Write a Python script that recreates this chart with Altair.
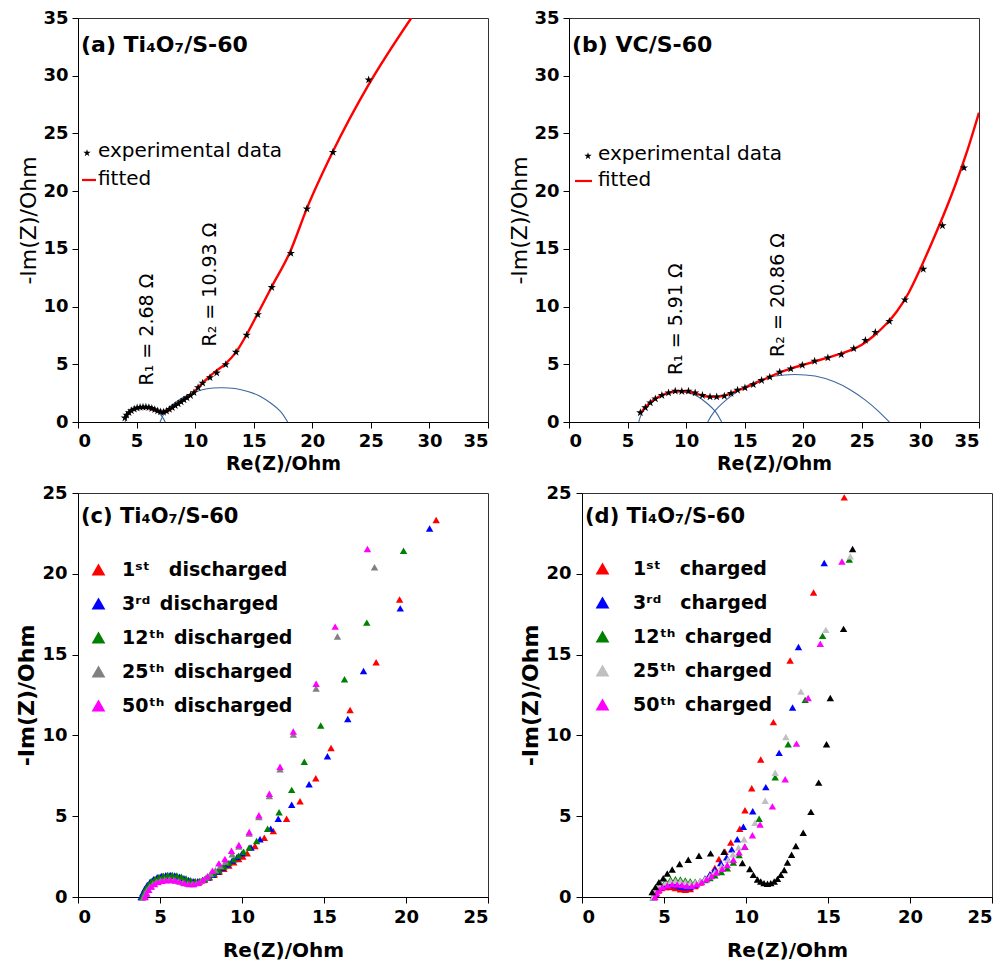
import altair as alt
import pandas as pd

FONT = "DejaVu Sans"
STAR = ("M0,-1L0.2245,-0.309L0.951,-0.309L0.363,0.118L0.588,0.809L0,0.382"
        "L-0.588,0.809L-0.363,0.118L-0.951,-0.309L-0.2245,-0.309Z")

TOP_TICKS = [0, 2.5, 5, 7.5, 10, 12.5, 15, 17.5, 20, 22.5, 25, 27.5, 30, 32.5, 35]
BOT_TICKS = [0, 5, 10, 15, 20, 25]

# ---------------- panel (a) ----------------
a_exp_x = [4.0, 4.15, 4.35, 4.55, 4.8, 5.05, 5.3, 5.55, 5.8, 6.05, 6.3, 6.55, 6.8, 7.05, 7.3,
           7.55, 7.8, 8.05, 8.3, 8.55, 8.8, 9.05, 9.3, 9.6, 9.9, 10.25, 10.64, 11.27, 11.84,
           12.61, 13.49, 14.40, 15.35, 16.54, 18.17, 19.54, 21.76, 24.81]
a_exp_y = [0.35, 0.6, 0.82, 0.98, 1.12, 1.22, 1.28, 1.3, 1.3, 1.26, 1.18, 1.08, 0.97, 0.88, 0.85,
           0.95, 1.1, 1.25, 1.42, 1.58, 1.75, 1.92, 2.1, 2.3, 2.55, 2.98, 3.38, 3.85, 4.25,
           4.98, 6.05, 7.52, 9.31, 11.66, 14.61, 18.46, 23.37, 29.65]
a_fit_x = [4.0, 4.3, 4.7, 5.2, 5.7, 6.2, 6.7, 7.2, 7.6, 8.2, 9.0, 9.7, 10.7, 11.69, 12.61, 13.49,
           14.40, 15.35, 16.54, 18.11, 19.54, 21.76, 24.81, 28.45]
a_fit_y = [0.3, 0.75, 1.05, 1.22, 1.25, 1.15, 0.95, 0.78, 0.9, 1.35, 1.95, 2.4, 3.45, 4.34, 5.06,
           6.05, 7.58, 9.40, 11.72, 14.75, 18.51, 23.43, 29.22, 35.0]
a_arc1_x = [4.02, 4.2, 4.5, 4.9, 5.4, 5.8, 6.3, 6.8, 7.2, 7.44]
a_arc1_y = [0.0, 0.55, 0.9, 1.15, 1.26, 1.27, 1.15, 0.85, 0.45, 0.0]
a_arc2_x = [7.0, 7.4, 8.0, 9.0, 10.0, 11.0, 12.2, 13.4, 14.5, 15.5, 16.5, 17.3, 17.9]
a_arc2_y = [0.0, 0.8, 1.45, 2.15, 2.6, 2.88, 2.97, 2.9, 2.65, 2.25, 1.6, 0.9, 0.0]

# ---------------- panel (b) ----------------
b_exp_x = [6.09, 6.52, 6.94, 7.37, 7.93, 8.50, 9.07, 9.63, 10.20, 10.77, 11.39, 12.04, 12.61,
           13.26, 13.83, 14.39, 15.02, 15.73, 16.44, 17.14, 17.99, 18.93, 19.92, 20.97, 22.10,
           23.24, 24.31, 25.30, 26.15, 27.35, 28.68, 30.24, 31.88, 33.72]
b_exp_y = [0.81, 1.24, 1.67, 2.01, 2.30, 2.53, 2.68, 2.65, 2.68, 2.53, 2.30, 2.19, 2.19,
           2.25, 2.48, 2.76, 2.96, 3.25, 3.60, 3.89, 4.32, 4.61, 4.92, 5.27, 5.56,
           5.84, 6.36, 7.08, 7.77, 8.72, 10.59, 13.24, 17.01, 22.02]
b_fit_x = [6.1, 6.6, 7.2, 8.0, 8.8, 9.6, 10.4, 11.2, 12.0, 12.8, 13.6, 14.4, 15.2, 16.0, 17.0,
           18.0, 19.0, 20.0, 21.0, 22.0, 23.0, 24.0, 25.0, 26.0, 27.0, 28.0, 29.0, 30.0, 31.0,
           32.0, 33.0, 34.0, 35.0]
b_fit_y = [0.75, 1.35, 1.9, 2.35, 2.6, 2.68, 2.58, 2.35, 2.18, 2.2, 2.4, 2.75, 3.05, 3.4, 3.85,
           4.3, 4.65, 4.95, 5.25, 5.55, 5.85, 6.2, 6.7, 7.45, 8.4, 9.6, 11.2, 13.3, 15.6,
           18.0, 20.6, 23.5, 26.8]
b_arc1_x = [5.95, 6.3, 6.9, 7.6, 8.4, 9.35, 10.3, 11.1, 11.8, 12.5, 13.03]
b_arc1_y = [0.0, 0.95, 1.65, 2.15, 2.5, 2.6, 2.5, 2.15, 1.6, 0.9, 0.0]
b_arc2_x = [11.84, 12.4, 13.4, 14.6, 16.0, 17.6, 19.27, 21.0, 22.6, 24.0, 25.3, 26.4, 27.35]
b_arc2_y = [0.0, 0.9, 1.9, 2.8, 3.5, 3.98, 4.12, 3.98, 3.5, 2.8, 1.9, 0.95, 0.0]

# ---------------- panel (c) ----------------
c_names = ["1ˢᵗ\u2003discharged", "3ʳᵈ\u2002discharged", "12ᵗʰ\u2002discharged",
           "25ᵗʰ\u2002discharged", "50ᵗʰ\u2002discharged"]
c_colors = ["#ff0000", "#0000ff", "#008000", "#808080", "#ff00ff"]
c1_x = [3.9, 4.0, 4.12, 4.28, 4.47, 4.68, 4.92, 5.18, 5.45, 5.72, 6.0, 6.28, 6.56, 6.84, 7.12,
        7.4, 7.7, 8.0, 8.3, 8.6, 8.9, 9.2, 9.5, 9.8, 10.05, 10.32, 10.79, 11.36, 11.91, 12.72,
        13.54, 14.50, 15.43, 16.59, 18.18, 19.61, 21.84]
c1_y = [0.0, 0.25, 0.5, 0.72, 0.92, 1.08, 1.2, 1.28, 1.32, 1.32, 1.28, 1.2, 1.1, 1.0, 0.94,
        0.96, 1.06, 1.2, 1.38, 1.56, 1.75, 1.95, 2.15, 2.35, 2.5, 2.71, 3.16, 3.67, 4.08, 4.84,
        5.92, 7.35, 9.22, 11.57, 14.53, 18.41, 23.33]
c3_x = [3.85, 3.95, 4.07, 4.22, 4.4, 4.6, 4.83, 5.08, 5.35, 5.62, 5.9, 6.18, 6.46, 6.74, 7.02,
        7.3, 7.6, 7.9, 8.2, 8.5, 8.8, 9.1, 9.4, 9.7, 10.0, 10.55, 11.10, 11.75, 12.21, 13.03,
        14.09, 15.21, 16.45, 17.41, 19.65, 21.44]
c3_y = [0.0, 0.25, 0.5, 0.74, 0.95, 1.1, 1.22, 1.3, 1.35, 1.36, 1.33, 1.26, 1.16, 1.05, 0.97,
        0.97, 1.06, 1.2, 1.38, 1.58, 1.8, 2.02, 2.25, 2.48, 2.7, 3.06, 3.57, 4.22, 4.84, 5.71,
        6.98, 8.71, 11.02, 13.98, 17.86, 22.80]
c12_x = [3.92, 4.02, 4.14, 4.3, 4.48, 4.7, 4.94, 5.2, 5.47, 5.75, 6.03, 6.31, 6.59, 6.87, 7.15,
         7.43, 7.72, 8.0, 8.3, 8.6, 8.9, 9.2, 9.5, 9.8, 10.1, 10.44, 10.89, 11.56, 12.26, 13.03,
         13.80, 14.80, 16.25, 17.61, 19.85]
c12_y = [0.0, 0.25, 0.52, 0.76, 0.97, 1.12, 1.24, 1.32, 1.37, 1.37, 1.33, 1.25, 1.14, 1.04, 0.98,
         1.0, 1.1, 1.25, 1.45, 1.66, 1.88, 2.1, 2.33, 2.56, 2.8, 3.06, 3.47, 4.22, 5.24, 6.63,
         8.37, 10.61, 13.47, 16.98, 21.43]
c25_x = [4.0, 4.1, 4.22, 4.38, 4.57, 4.79, 5.03, 5.29, 5.56, 5.84, 6.12, 6.4, 6.68, 6.96, 7.24,
         7.52, 7.8, 8.08, 8.38, 8.68, 9.0, 9.4, 9.81, 10.44, 11.03, 11.67, 12.32, 13.13, 14.52,
         15.82, 18.08]
c25_y = [0.0, 0.22, 0.45, 0.65, 0.82, 0.95, 1.03, 1.07, 1.08, 1.05, 0.98, 0.9, 0.83, 0.8, 0.86,
         1.0, 1.2, 1.42, 1.66, 1.92, 2.2, 2.65, 3.12, 3.92, 4.95, 6.25, 7.9, 10.05, 12.9,
         16.12, 20.41]
c50_x = [4.1, 4.2, 4.32, 4.48, 4.67, 4.89, 5.13, 5.39, 5.66, 5.94, 6.22, 6.5, 6.78, 7.06, 7.34,
         7.62, 7.9, 8.2, 8.59, 8.96, 9.36, 9.81, 10.44, 11.03, 11.67, 12.32, 13.13, 14.52, 15.68,
         17.65]
c50_y = [0.0, 0.22, 0.44, 0.64, 0.8, 0.92, 1.0, 1.04, 1.05, 1.02, 0.95, 0.86, 0.8, 0.8, 0.88,
         1.05, 1.28, 1.63, 2.08, 2.35, 2.86, 3.22, 4.02, 5.06, 6.39, 8.06, 10.24, 13.20, 16.73,
         21.53]

# ---------------- panel (d) ----------------
d_names = ["1ˢᵗ\u2003charged", "3ʳᵈ\u2003charged", "12ᵗʰ\u2002charged",
           "25ᵗʰ\u2002charged", "50ᵗʰ\u2002charged"]
d_colors = ["#ff0000", "#0000ff", "#008000", "#c0c0c0", "#ff00ff"]
d1_x = [4.4, 4.5, 4.65, 4.85, 5.1, 5.4, 5.7, 6.0, 6.3, 6.6, 6.9, 7.2, 7.5, 7.8, 8.1, 8.35, 8.72,
        9.07, 9.62, 9.94, 10.35, 10.90, 11.67, 12.69, 14.12, 15.99]
d1_y = [0.0, 0.2, 0.4, 0.55, 0.62, 0.62, 0.55, 0.47, 0.45, 0.5, 0.68, 0.9, 1.12, 1.4, 1.8, 2.35,
        2.80, 3.37, 4.22, 5.37, 6.73, 8.51, 10.82, 14.63, 18.84, 24.73]
d3_x = [4.35, 4.45, 4.6, 4.8, 5.1, 5.4, 5.7, 6.0, 6.3, 6.6, 6.9, 7.2, 7.5, 7.8, 8.1, 8.46, 8.82,
        9.13, 9.47, 9.84, 10.41, 11.21, 12.02, 12.84, 13.20, 14.77]
d3_y = [0.0, 0.25, 0.45, 0.62, 0.72, 0.75, 0.72, 0.65, 0.6, 0.62, 0.75, 0.95, 1.15, 1.4, 1.7,
        2.10, 2.45, 2.96, 3.57, 4.35, 5.31, 6.80, 8.92, 11.73, 15.47, 20.67]
d12_x = [4.35, 4.45, 4.6, 4.8, 5.1, 5.4, 5.7, 6.0, 6.3, 6.6, 6.9, 7.2, 7.5, 7.8, 8.1, 8.5, 8.86,
         9.23, 9.58, 9.94, 10.80, 11.78, 12.57, 13.61, 14.67, 16.30]
d12_y = [0.0, 0.3, 0.55, 0.8, 0.97, 1.08, 1.1, 1.08, 1.02, 0.97, 0.95, 0.97, 1.05, 1.18, 1.35,
         1.55, 1.78, 2.14, 2.59, 3.10, 4.84, 7.41, 9.45, 12.20, 16.16, 20.88]
d25_x = [4.35, 4.45, 4.6, 4.8, 5.1, 5.4, 5.7, 6.0, 6.3, 6.6, 6.9, 7.2, 7.5, 7.8, 8.1, 8.5, 8.9,
         9.2, 9.54, 9.88, 10.55, 11.17, 11.78, 12.43, 13.35, 14.87, 16.36]
d25_y = [0.0, 0.3, 0.55, 0.75, 0.9, 0.98, 1.0, 0.98, 0.92, 0.88, 0.9, 0.98, 1.12, 1.3, 1.55,
         1.9, 2.3, 2.65, 3.06, 3.57, 4.59, 5.96, 7.69, 9.90, 12.71, 16.53, 21.08]
d50_x = [4.45, 4.55, 4.7, 4.9, 5.2, 5.5, 5.8, 6.1, 6.4, 6.7, 7.0, 7.3, 7.6, 7.9, 8.2, 8.55, 8.86,
         9.23, 9.58, 9.92, 10.39, 10.86, 11.61, 12.39, 13.08, 13.79, 14.53, 15.85]
d50_y = [0.0, 0.25, 0.45, 0.62, 0.72, 0.78, 0.78, 0.74, 0.7, 0.7, 0.78, 0.92, 1.1, 1.3, 1.52,
         1.75, 1.98, 2.31, 2.76, 3.12, 3.82, 4.49, 5.61, 7.29, 9.49, 12.31, 15.67, 20.76]
dk_x = [4.28, 4.48, 4.69, 4.95, 5.2, 5.5, 5.95, 6.48, 7.13, 7.84, 8.66, 9.78, 10.23, 10.45, 10.7,
        10.9, 11.1, 11.31, 11.51, 11.72, 11.92, 12.12, 12.33, 12.53, 12.78, 13.04, 13.49, 13.96,
        14.43, 14.91, 15.14, 15.95, 16.50]
dk_y = [0.31, 0.61, 0.92, 1.16, 1.45, 1.7, 2.04, 2.31, 2.55, 2.7, 2.8, 2.10, 1.73, 1.37, 1.08,
        0.96, 0.86, 0.82, 0.86, 0.96, 1.12, 1.37, 1.67, 2.14, 2.61, 3.16, 3.98, 5.27, 7.08, 9.45,
        12.31, 16.59, 21.53]

W, H = 410, 404


def xy(xs, ys, **extra):
    df = pd.DataFrame({"x": xs, "y": ys})
    for k, v in extra.items():
        df[k] = v
    return df


def minor_axis(title, title_weight, title_size, title_pad):
    return alt.Axis(
        title=title, values=TOP_TICKS, grid=False,
        labelExpr="datum.value % 5 === 0 ? datum.label : ''",
        tickSize={"condition": {"test": "datum.value % 5 !== 0", "value": 3}, "value": 6},
        labelFont=FONT, labelFontSize=18, labelFontWeight="bold", labelColor="black",
        labelPadding=4, domainColor="black", tickColor="black",
        titleFont=FONT, titleFontSize=title_size, titleFontWeight=title_weight,
        titleColor="black", titlePadding=title_pad)


def top_panel(exp_x, exp_y, fit_x, fit_y, arcs, title, ann, leg):
    xs = alt.Scale(domain=[0, 35], nice=False)
    ys = alt.Scale(domain=[0, 35], nice=False)
    X = alt.X("x:Q", scale=xs, axis=minor_axis("Re(Z)/Ohm", "bold", 19, 4))
    Y = alt.Y("y:Q", scale=ys, axis=minor_axis("-Im(Z)/Ohm", "normal", 22, 2))
    arc_df = pd.concat([xy(ax, ay, arc=i) for i, (ax, ay) in enumerate(arcs)])
    arc_layer = alt.Chart(arc_df).mark_line(
        color="#3b679c", strokeWidth=1.1, interpolate="natural").encode(
        x=X, y=Y, detail="arc:N", order="x:Q")
    fit_layer = alt.Chart(xy(fit_x, fit_y)).mark_line(
        color="#ff0000", strokeWidth=2.4, interpolate="monotone", clip=True).encode(x="x:Q", y="y:Q")
    exp_layer = alt.Chart(xy(exp_x, exp_y)).mark_point(
        shape=STAR, filled=True, color="black", size=75, opacity=1).encode(x="x:Q", y="y:Q")
    layers = [arc_layer, fit_layer, exp_layer]
    for (tx, ty, txt) in ann:
        layers.append(alt.Chart(pd.DataFrame({"t": [txt]})).mark_text(
            angle=270, font=FONT, fontSize=19, color="black", align="center",
            baseline="middle").encode(x=alt.datum(tx), y=alt.datum(ty), text="t:N"))
    layers.append(alt.Chart(pd.DataFrame({"t": [title]})).mark_text(
        font=FONT, fontSize=22, fontWeight="bold", color="black", align="left",
        baseline="middle").encode(x=alt.value(3), y=alt.value(27), text="t:N"))
    sx, sy, tx, ly, lx1, lx2 = leg
    layers.append(alt.Chart(pd.DataFrame({"t": ["s"]})).mark_point(
        shape=STAR, filled=True, color="black", size=60, opacity=1).encode(
        x=alt.value(sx), y=alt.value(sy)))
    layers.append(alt.Chart(pd.DataFrame({"t": ["experimental data"]})).mark_text(
        font=FONT, fontSize=20, color="black", align="left", baseline="middle").encode(
        x=alt.value(tx), y=alt.value(sy - 2), text="t:N"))
    layers.append(alt.Chart(pd.DataFrame({"t": ["r"]})).mark_rule(
        color="#ff0000", strokeWidth=2.2).encode(
        x=alt.value(lx1), x2=alt.value(lx2), y=alt.value(ly)))
    layers.append(alt.Chart(pd.DataFrame({"t": ["fitted"]})).mark_text(
        font=FONT, fontSize=20, color="black", align="left", baseline="middle").encode(
        x=alt.value(tx), y=alt.value(ly - 1), text="t:N"))
    return alt.layer(*layers).properties(width=W, height=H)


def bottom_axis(title, pad, size=18):
    return alt.Axis(
        title=title, values=BOT_TICKS, grid=False, tickSize=6,
        labelFont=FONT, labelFontSize=18, labelFontWeight="bold", labelColor="black",
        labelPadding=5, domainColor="black", tickColor="black",
        titleFont=FONT, titleFontSize=size, titleFontWeight="bold",
        titleColor="black", titlePadding=pad)


def bottom_panel(series, names, colors, field, title, legxy, offset, black=None):
    frames = [xy(sx, syy, **{field: nm}) for (sx, syy), nm in zip(series, names)]
    df = pd.concat(frames)
    X = alt.X("x:Q", scale=alt.Scale(domain=[0, 25], nice=False),
              axis=bottom_axis("Re(Z)/Ohm", 14, 20))
    Y = alt.Y("y:Q", scale=alt.Scale(domain=[0, 25], nice=False),
              axis=bottom_axis("-Im(Z)/Ohm", 3, 22))
    pts = alt.Chart(df).mark_point(shape="triangle-up", filled=True, size=55, opacity=1).encode(
        x=X, y=Y,
        color=alt.Color(f"{field}:N", sort=names,
                        scale=alt.Scale(domain=names, range=colors),
                        legend=alt.Legend(
                            orient="none", legendX=legxy[0], legendY=legxy[1], title=None,
                            symbolType="triangle-up", symbolSize=190, symbolStrokeWidth=0,
                            labelFont=FONT, labelFontSize=19, labelFontWeight="bold",
                            labelColor="black", labelOffset=offset, rowPadding=14,
                            labelLimit=400, padding=0)))
    layers = [pts]
    if black is not None:
        layers.append(alt.Chart(xy(black[0], black[1])).mark_point(
            shape="triangle-up", filled=True, size=55, opacity=1, color="black").encode(
            x="x:Q", y="y:Q"))
    layers.append(alt.Chart(pd.DataFrame({"t": [title]})).mark_text(
        font=FONT, fontSize=21, fontWeight="bold", color="black", align="left",
        baseline="middle").encode(x=alt.value(3), y=alt.value(24), text="t:N"))
    return alt.layer(*layers).properties(width=W, height=H)


pa = top_panel(a_exp_x, a_exp_y, a_fit_x, a_fit_y,
               [(a_arc1_x, a_arc1_y), (a_arc2_x, a_arc2_y)],
               "(a)  Ti₄O₇/S-60",
               [(5.9, 8.0, "R₁ = 2.68 Ω"), (11.3, 11.9, "R₂ = 10.93 Ω")],
               (9, 135, 20, 162, 4, 18))
pb = top_panel(b_exp_x, b_exp_y, b_fit_x, b_fit_y,
               [(b_arc1_x, b_arc1_y), (b_arc2_x, b_arc2_y)],
               "(b) VC/S-60",
               [(9.1, 8.9, "R₁ = 5.91 Ω"), (17.85, 11.0, "R₂ = 20.86 Ω")],
               (19, 138, 29, 163, 6, 23))

c_series = [(c1_x, c1_y), (c3_x, c3_y), (c12_x, c12_y), (c25_x, c25_y), (c50_x, c50_y)]
d_series = [(d1_x, d1_y), (d3_x, d3_y), (d12_x, d12_y), (d25_x, d25_y), (d50_x, d50_y)]

pc = bottom_panel(c_series, c_names, c_colors, "cycle_c", "(c)  Ti₄O₇/S-60", (11, 67), 14)
pd_ = bottom_panel(d_series, d_names, d_colors, "cycle_d", "(d) Ti₄O₇/S-60", (11, 66), 21,
                   black=(dk_x, dk_y))

row1 = alt.hconcat(pa, pb, spacing=19).resolve_scale(color="independent")
row2 = alt.hconcat(pc, pd_, spacing=30).resolve_scale(color="independent")
chart = alt.vconcat(row1, row2, spacing=9).resolve_scale(color="independent").properties(
    padding={"left": 7, "top": 0, "right": 0, "bottom": 0}
).configure_view(stroke="#333333", strokeWidth=1)

chart.save("out.html", embed_options={"renderer": "svg", "actions": False})
